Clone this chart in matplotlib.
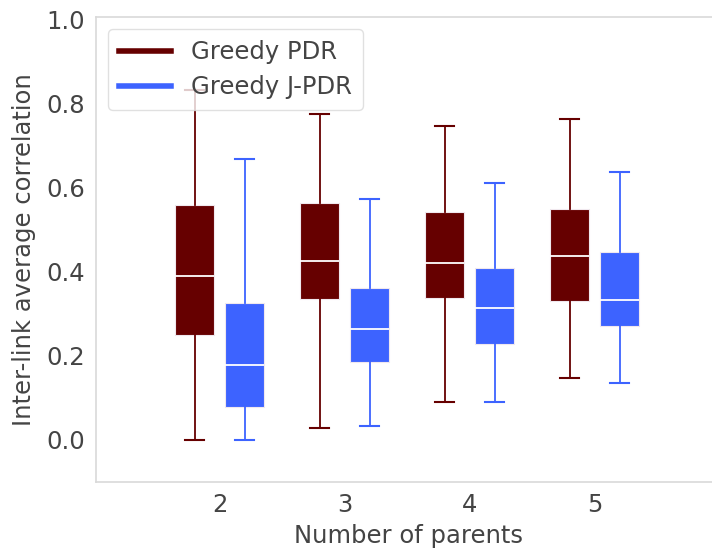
import matplotlib
matplotlib.use("Agg")
import matplotlib.pyplot as plt
from matplotlib.lines import Line2D

parents = [2, 3, 4, 5]
series = ["Greedy PDR", "Greedy J-PDR"]
colors = ["#660000", "#3d63ff"]

# whisker low, Q1, median, Q3, whisker high
pdr_low = [0.000, 0.029, 0.090, 0.147]
pdr_q1 = [0.249, 0.334, 0.338, 0.330]
pdr_med = [0.389, 0.424, 0.421, 0.438]
pdr_q3 = [0.559, 0.562, 0.542, 0.549]
pdr_high = [0.831, 0.774, 0.745, 0.763]

jpdr_low = [0.000, 0.033, 0.089, 0.136]
jpdr_q1 = [0.078, 0.185, 0.228, 0.271]
jpdr_med = [0.178, 0.264, 0.314, 0.333]
jpdr_q3 = [0.325, 0.361, 0.408, 0.447]
jpdr_high = [0.668, 0.572, 0.610, 0.636]

text_color = "#444444"
plt.rcParams["font.family"] = ["DejaVu Sans"]
fs = 17.5

fig = plt.figure(figsize=(7.12, 5.51), dpi=100)
ax = fig.add_axes([96 / 712, 1 - 482 / 551, 625 / 712, (482 - 17) / 551])

def stats(low, q1, med, q3, high):
    return [dict(whislo=a, q1=b, med=c, q3=d, whishi=e, fliers=[])
            for a, b, c, d, e in zip(low, q1, med, q3, high)]

data = [stats(pdr_low, pdr_q1, pdr_med, pdr_q3, pdr_high),
        stats(jpdr_low, jpdr_q1, jpdr_med, jpdr_q3, jpdr_high)]
offsets = [-0.2, 0.2]

for st, off, col in zip(data, offsets, colors):
    pos = [p + off for p in parents]
    ax.bxp(st, positions=pos, widths=0.31, patch_artist=True, showfliers=False,
           boxprops=dict(facecolor=col, edgecolor="#f0e8ee", linewidth=0.8),
           medianprops=dict(color="white", linewidth=1.3),
           whiskerprops=dict(color=col, linewidth=1.3),
           capprops=dict(color=col, linewidth=1.5),
           capwidths=0.15)

ax.set_xlim(1.01, 6.01)
ax.set_ylim(-0.1, 1.005)
ax.set_xticks(parents)
ax.set_xticklabels([str(p) for p in parents])
ax.set_yticks([0.0, 0.2, 0.4, 0.6, 0.8, 1.0])
ax.tick_params(axis="both", labelsize=fs, colors=text_color, length=0, pad=8)
for s in ax.spines.values():
    s.set_color("#d9d9d9")
    s.set_linewidth(1.2)
ax.set_xlabel("Number of parents", fontsize=fs, color=text_color, labelpad=5)
ax.set_ylabel("Inter-link average correlation", fontsize=fs, color=text_color, labelpad=7)

handles = [Line2D([0], [0], color=c, lw=4) for c in colors]
leg = ax.legend(handles, series, loc="upper left", fontsize=fs, frameon=True,
                handlelength=2.15, borderaxespad=0.5, labelspacing=0.45,
                borderpad=0.45, labelcolor=text_color)
leg.get_frame().set_edgecolor("#d9d9d9")
leg.get_frame().set_linewidth(1.0)

fig.savefig("out.png", dpi=100)
